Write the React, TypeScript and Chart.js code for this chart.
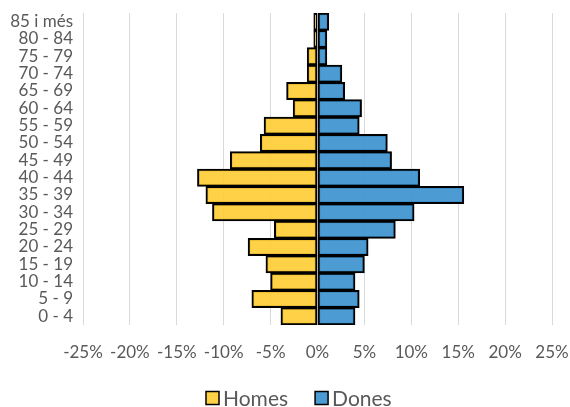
import React, { useEffect, useRef } from "react";
import { Chart, registerables } from "chart.js";

Chart.register(...registerables);

const categories = [
  "85 i més", "80 - 84", "75 - 79", "70 - 74", "65 - 69", "60 - 64",
  "55 - 59", "50 - 54", "45 - 49", "40 - 44", "35 - 39", "30 - 34",
  "25 - 29", "20 - 24", "15 - 19", "10 - 14", "5 - 9", "0 - 4",
];
const homes = [
  -0.4, -0.4, -1.1, -1.1, -3.3, -2.6, -5.7, -6.1, -9.3, -12.8, -11.9, -11.2,
  -4.6, -7.4, -5.5, -5.0, -7.0, -3.9,
];
const dones = [
  1.2, 1.0, 1.0, 2.6, 2.9, 4.7, 4.45, 7.45, 7.9, 10.9, 15.6, 10.3,
  8.3, 5.4, 5.0, 4.0, 4.45, 4.0,
];
const xTicks = [-25, -20, -15, -10, -5, 0, 5, 10, 15, 20, 25];

const FONT = "Lato, 'Liberation Sans', sans-serif";
const TEXT = "#595959";

const customLegend = {
  id: "customLegend",
  afterDraw(chart: any) {
    const ctx = chart.ctx;
    ctx.save();
    ctx.font = `21px ${FONT}`;
    ctx.textBaseline = "middle";
    ctx.textAlign = "left";
    let x = 206;
    const cy = 398;
    const box = 13;
    chart.data.datasets.forEach((ds: any) => {
      ctx.fillStyle = ds.backgroundColor;
      ctx.fillRect(x, cy - box / 2, box, box);
      ctx.strokeStyle = "#000";
      ctx.lineWidth = 1.5;
      ctx.strokeRect(x, cy - box / 2, box, box);
      x += box + 4;
      ctx.fillStyle = TEXT;
      ctx.fillText(ds.label, x, cy + 1);
      x += ctx.measureText(ds.label).width + 27;
    });
    ctx.restore();
  },
};

export default function App() {
  const ref = useRef<HTMLCanvasElement | null>(null);
  useEffect(() => {
    if (!ref.current) return;
    const chart = new Chart(ref.current, {
      type: "bar",
      data: {
        labels: categories,
        datasets: [
          {
            label: "Homes",
            data: homes,
            backgroundColor: "rgba(255,204,51,0.9)",
            borderColor: "#000000",
            borderWidth: 2,
            borderSkipped: false,
            categoryPercentage: 1,
            barPercentage: 1,
          },
          {
            label: "Dones",
            data: dones,
            backgroundColor: "rgba(61,146,207,0.92)",
            borderColor: "#000000",
            borderWidth: 2,
            borderSkipped: false,
            categoryPercentage: 1,
            barPercentage: 1,
          },
        ],
      },
      plugins: [customLegend],
      options: {
        indexAxis: "y",
        animation: false,
        responsive: false,
        maintainAspectRatio: false,
        layout: { padding: { top: 13, right: 18, left: 0, bottom: 37 } },
        plugins: {
          tooltip: { enabled: false },
          legend: { display: false },
        },
        scales: {
          x: {
            stacked: true,
            min: -25,
            max: 25,
            afterBuildTicks: (scale: any) => {
              scale.ticks = xTicks.map((v) => ({ value: v }));
            },
            afterFit: (scale: any) => {
              scale.height = 45;
              scale.paddingLeft = 0;
              scale.paddingRight = 0;
            },
            ticks: {
              color: TEXT,
              font: { family: FONT, size: 17 },
              padding: 17,
              maxRotation: 0,
              callback: (v: any) => `${v}%`,
            },
            grid: { color: "#d9d9d9", lineWidth: 1, drawTicks: false },
            border: { display: false },
          },
          y: {
            stacked: true,
            afterFit: (scale: any) => {
              scale.width = 83;
              scale.paddingTop = 0;
              scale.paddingBottom = 0;
            },
            ticks: {
              color: TEXT,
              font: { family: FONT, size: 17 },
              padding: 10,
              autoSkip: false,
            },
            grid: { display: false, drawTicks: false },
            border: { display: false },
          },
        },
      },
    });
    return () => chart.destroy();
  }, []);
  return (
    <div style={{ position: "fixed", left: 0, top: 0, width: 570, height: 407, background: "#fff" }}>
      <canvas ref={ref} width={570} height={407} style={{ width: 570, height: 407 }} />
    </div>
  );
}
